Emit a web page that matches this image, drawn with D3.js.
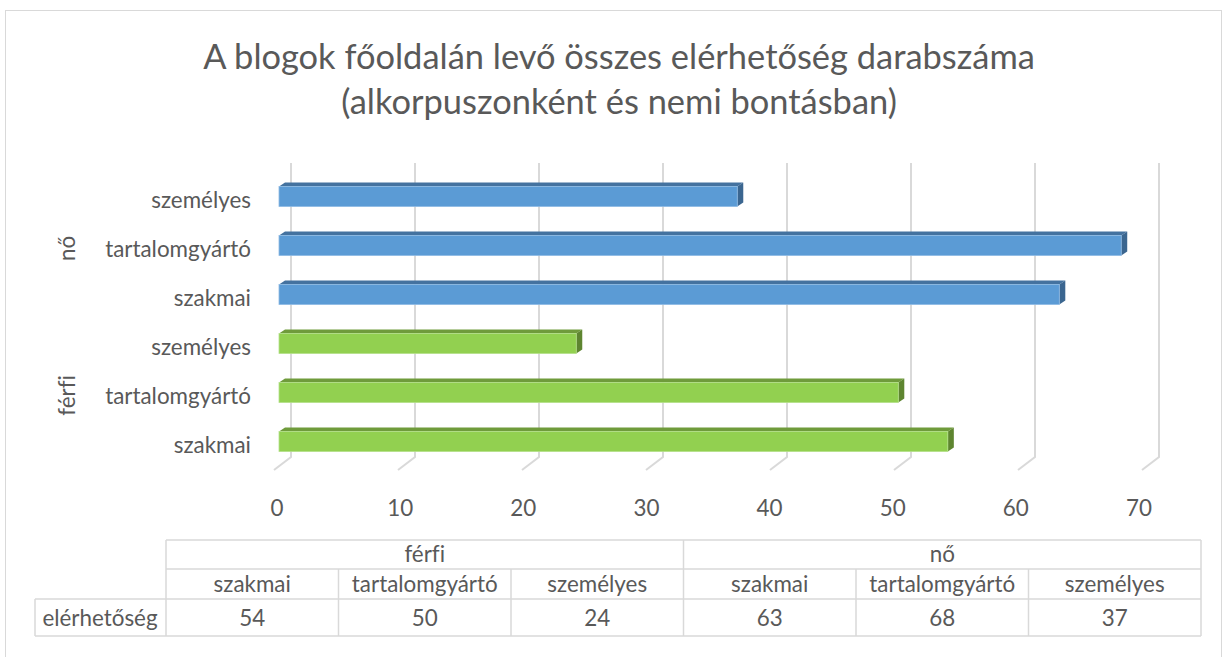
<!DOCTYPE html>
<html>
<head>
<meta charset="utf-8">
<script src="https://cdn.jsdelivr.net/npm/d3@7"></script>
<style>
  body { margin: 0; background: #fff; }
  svg text { font-family: Lato, "Open Sans", sans-serif; fill: #595959; font-variant-ligatures: none; }
</style>
</head>
<body>
<div id="chart"></div>
<script>
var width = 1227,
    height = 657;

var titleLines = ["A blogok főoldalán levő összes elérhetőség darabszáma",
                  "(alkorpuszonként és nemi bontásban)"];
var groups = ["férfi", "nő"];
var categories = ["szakmai", "tartalomgyártó", "személyes"];
var ferfiValues = [54, 50, 24];
var noValues = [63, 68, 37];
var tickValues = [0, 10, 20, 30, 40, 50, 60, 70];
var rowLabel = "elérhetőség";

var colors = {
    "férfi": {front: "#92d050", top: "#6f9b3b", side: "#5e8530", edge: "#b5e08a"},
    "nő": {front: "#5b9bd5", top: "#44729f", side: "#3b6690", edge: "#8fbbe4"}
};

// one row per bar, in table order (férfi first)
var rows = [];
groups.forEach(function (g) {
    var vals = g == "férfi" ? ferfiValues : noValues;
    categories.forEach(function (c, i) {
        rows.push({group: g, cat: c, value: vals[i], key: g + "|" + c});
    });
});

// 3d depth of the plot and of the bars
var floorDx = -17, floorDy = 13;
var barDx = 6, barDy = 4;

var xBack = d3.scaleLinear().domain([0, 70]).range([291, 1159]);
var xFront = d3.scaleLinear().domain([0, 70]).range([279, 1146]);
var xLabel = d3.scaleLinear().domain([0, 70]).range([277, 1139]);

var y = d3.scaleBand()
    .domain(rows.map(function (d) { return d.key; }).reverse())
    .range([172, 466])
    .paddingInner(0.59)
    .paddingOuter(0.295);

var wallTop = 163, wallBottom = 457;

var svg = d3.select("#chart").append("svg")
    .attr("width", width)
    .attr("height", height);

// font size that gives a text the width it has in the picture
var fitSize = function (txt, target) {
    var t = svg.append("text").attr("font-size", 100).text(txt);
    var w = t.node().getComputedTextLength();
    t.remove();
    return 100 * target / w;
};
var titleSize = fitSize(titleLines[0], 832);
var labelSize = fitSize("tartalomgyártó", 146);

svg.append("rect")
    .attr("x", 5.5).attr("y", 10.5)
    .attr("width", 1216).attr("height", 670)
    .attr("fill", "none")
    .attr("stroke", "#d9d9d9");

svg.selectAll(".title")
    .data(titleLines)
    .enter()
    .append("text")
    .attr("class", "title")
    .attr("x", 619)
    .attr("y", function (d, i) { return 69 + i * 45; })
    .attr("text-anchor", "middle")
    .attr("font-size", titleSize)
    .text(function (d) { return d; });

// back wall gridlines with their floor part
var grid = svg.append("g").attr("class", "grid");
grid.selectAll("path")
    .data(tickValues)
    .enter()
    .append("path")
    .attr("d", function (d) {
        var x = xBack(d);
        return "M" + x + "," + wallTop + "L" + x + "," + wallBottom +
            "L" + (x + floorDx) + "," + (wallBottom + floorDy);
    })
    .attr("fill", "none")
    .attr("stroke", "#d9d9d9")
    .attr("stroke-width", 2);

svg.selectAll(".tick")
    .data(tickValues)
    .enter()
    .append("text")
    .attr("class", "tick")
    .attr("x", function (d) { return xLabel(d); })
    .attr("y", 507)
    .attr("text-anchor", "middle")
    .attr("dominant-baseline", "central")
    .attr("font-size", labelSize)
    .text(function (d) { return d; });

// bars: top face, side face, front face
var bars = svg.selectAll(".bar")
    .data(rows)
    .enter()
    .append("g")
    .attr("class", "bar");

bars.append("path")
    .attr("d", function (d) {
        var x0 = xFront(0), x1 = xFront(d.value), yt = y(d.key);
        return "M" + x0 + "," + yt + "L" + (x0 + barDx) + "," + (yt - barDy) +
            "L" + (x1 + barDx) + "," + (yt - barDy) + "L" + x1 + "," + yt + "Z";
    })
    .attr("fill", function (d) { return colors[d.group].top; });

bars.append("path")
    .attr("d", function (d) {
        var x1 = xFront(d.value), yt = y(d.key), yb = yt + y.bandwidth();
        return "M" + x1 + "," + yt + "L" + (x1 + barDx) + "," + (yt - barDy) +
            "L" + (x1 + barDx) + "," + (yb - barDy) + "L" + x1 + "," + yb + "Z";
    })
    .attr("fill", function (d) { return colors[d.group].side; });

bars.append("rect")
    .attr("x", function (d) { return xFront(0); })
    .attr("y", function (d) { return y(d.key); })
    .attr("width", function (d) { return xFront(d.value) - xFront(0); })
    .attr("height", y.bandwidth())
    .attr("fill", function (d) { return colors[d.group].front; })
    .attr("stroke", function (d) { return colors[d.group].edge; })
    .attr("stroke-width", 0.8);

// category labels and group labels
svg.selectAll(".cat")
    .data(rows)
    .enter()
    .append("text")
    .attr("class", "cat")
    .attr("x", 251)
    .attr("y", function (d) { return y(d.key) + y.bandwidth() / 2 + 3; })
    .attr("text-anchor", "end")
    .attr("dominant-baseline", "central")
    .attr("font-size", labelSize)
    .text(function (d) { return d.cat; });

svg.selectAll(".grp")
    .data(groups)
    .enter()
    .append("text")
    .attr("class", "grp")
    .attr("transform", function (g) {
        var mid = y(g + "|" + categories[1]) + y.bandwidth() / 2 + 3;
        return "translate(66," + mid + ") rotate(-90)";
    })
    .attr("text-anchor", "middle")
    .attr("dominant-baseline", "central")
    .attr("font-size", labelSize)
    .text(function (g) { return g; });

// data table
var col = d3.scaleBand()
    .domain(rows.map(function (d) { return d.key; }))
    .range([166, 1201]);
var rowY = [540, 569, 599, 636];
var table = svg.append("g").attr("class", "table");
var line = function (x1, y1, x2, y2) {
    table.append("line")
        .attr("x1", x1).attr("y1", y1).attr("x2", x2).attr("y2", y2)
        .attr("stroke", "#d9d9d9").attr("stroke-width", 1.5);
};
line(166, rowY[0], 1201, rowY[0]);
line(166, rowY[1], 1201, rowY[1]);
line(35, rowY[2], 1201, rowY[2]);
line(35, rowY[3], 1201, rowY[3]);
line(35, rowY[2], 35, rowY[3]);
line(166, rowY[0], 166, rowY[3]);
rows.forEach(function (d, i) {
    var xr = col(d.key) + col.bandwidth();
    var top = (i % 3 == 2) ? rowY[0] : rowY[1];
    line(xr, top, xr, rowY[3]);
});

var groupX = function (g) {
    var keys = rows.filter(function (d) { return d.group == g; });
    return (col(keys[0].key) + col(keys[2].key) + col.bandwidth()) / 2;
};
table.selectAll(".tg")
    .data(groups)
    .enter()
    .append("text")
    .attr("x", function (g) { return groupX(g); })
    .attr("y", 553)
    .attr("text-anchor", "middle")
    .attr("dominant-baseline", "central")
    .attr("font-size", labelSize)
    .text(function (g) { return g; });

table.selectAll(".tc")
    .data(rows)
    .enter()
    .append("text")
    .attr("x", function (d) { return col(d.key) + col.bandwidth() / 2; })
    .attr("y", 583)
    .attr("text-anchor", "middle")
    .attr("dominant-baseline", "central")
    .attr("font-size", labelSize)
    .text(function (d) { return d.cat; });

table.selectAll(".tv")
    .data(rows)
    .enter()
    .append("text")
    .attr("x", function (d) { return col(d.key) + col.bandwidth() / 2; })
    .attr("y", 617)
    .attr("text-anchor", "middle")
    .attr("dominant-baseline", "central")
    .attr("font-size", labelSize)
    .text(function (d) { return d.value; });

table.append("text")
    .attr("x", 100)
    .attr("y", 617)
    .attr("text-anchor", "middle")
    .attr("dominant-baseline", "central")
    .attr("font-size", labelSize)
    .text(rowLabel);
</script>
</body>
</html>
